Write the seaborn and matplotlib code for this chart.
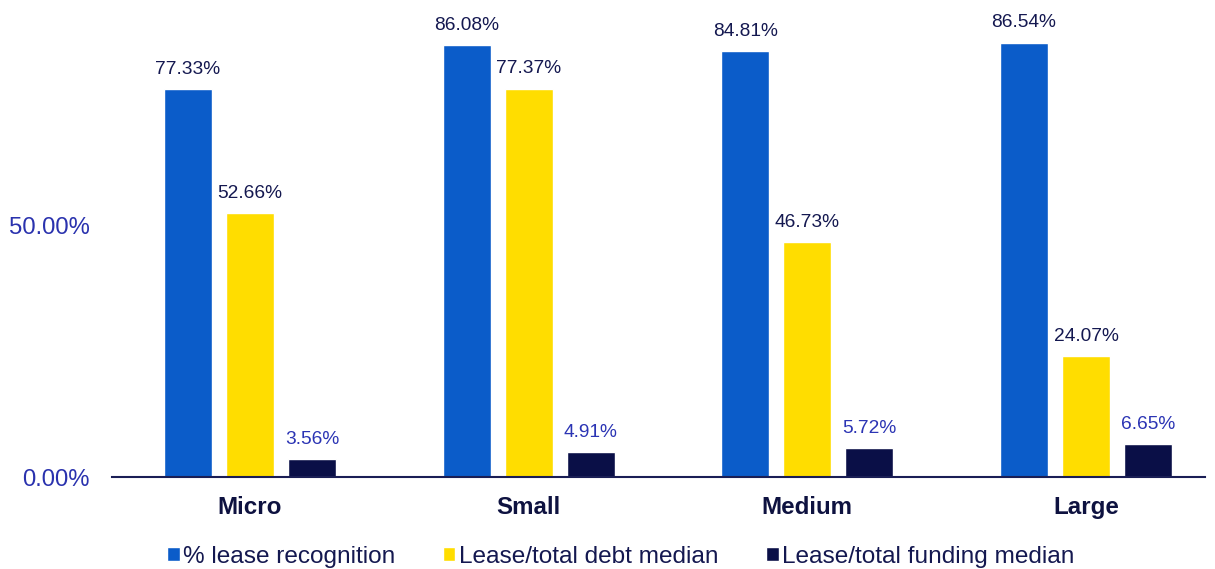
import matplotlib
matplotlib.use("Agg")
import matplotlib.pyplot as plt
import seaborn as sns
import pandas as pd

categories = ["Micro", "Small", "Medium", "Large"]
series_names = ["% lease recognition", "Lease/total debt median", "Lease/total funding median"]
lease_recognition = [77.33, 86.08, 84.81, 86.54]
lease_debt_median = [52.66, 77.37, 46.73, 24.07]
lease_funding_median = [3.56, 4.91, 5.72, 6.65]
ytick_values = [0, 50]
ytick_labels = ["0.00%", "50.00%"]

colors = ["#0B5CC9", "#FFDD00", "#0A0F47"]
label_colors = ["#141850", "#141850", "#2B34B4"]

rows = []
for name, vals in zip(series_names, [lease_recognition, lease_debt_median, lease_funding_median]):
    for c, v in zip(categories, vals):
        rows.append({"category": c, "series": name, "value": v})
df = pd.DataFrame(rows)

sns.set_theme(style="white")
plt.rcParams["font.family"] = ["Liberation Sans", "DejaVu Sans"]

fig = plt.figure(figsize=(12.15, 5.69), dpi=100)
ax = fig.add_axes([112 / 1215, 92 / 569, (1205 - 112) / 1215, 447 / 569])

sns.barplot(data=df, x="category", y="value", hue="series", order=categories,
            hue_order=series_names, palette=colors, width=0.667, gap=0.226,
            saturation=1, ax=ax, legend=True)

for cont, lc in zip(ax.containers, label_colors):
    ax.bar_label(cont, labels=[f"{v:.2f}%" for v in cont.datavalues],
                 padding=8, fontsize=13.8, color=lc)

ax.set_ylim(0, 89.04)
ax.set_xlim(-0.495, 3.427)
ax.set_yticks(ytick_values)
ax.set_yticklabels(ytick_labels, fontsize=17.2, color="#2A32AE")
ax.tick_params(axis="y", length=0, pad=16)
ax.tick_params(axis="x", length=0, pad=14)
for lab in ax.get_xticklabels():
    lab.set_fontsize(17.4)
    lab.set_fontweight("bold")
    lab.set_color("#0E1240")
ax.set_xlabel("")
ax.set_ylabel("")
for s in ["top", "right", "left"]:
    ax.spines[s].set_visible(False)
ax.spines["bottom"].set_color("#1A1E55")
ax.spines["bottom"].set_linewidth(1.5)

handles, labels = ax.get_legend_handles_labels()
ax.legend_.remove()
leg = fig.legend(handles, labels, loc="center", bbox_to_anchor=(621 / 1215, 1 - 557 / 569),
                 ncol=3, frameon=False, fontsize=17.6, handlelength=0.5, handleheight=0.5,
                 handletextpad=0.15, columnspacing=1.95)
for t in leg.get_texts():
    t.set_color("#141850")

fig.savefig("out.png", dpi=100)
